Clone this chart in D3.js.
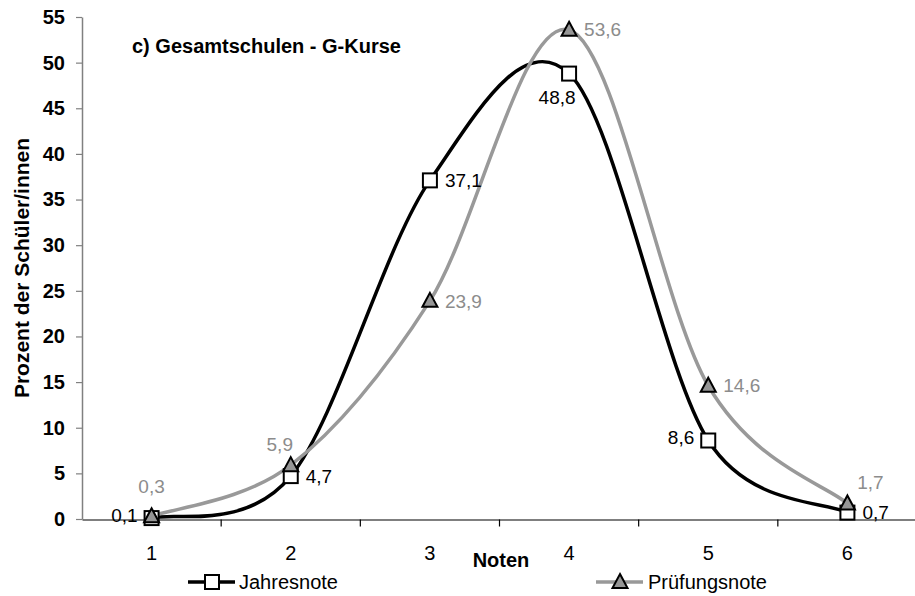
<!DOCTYPE html>
<html><head><meta charset="utf-8">
<script src="https://cdn.jsdelivr.net/npm/d3@7"></script>
<style>body{margin:0;background:#fff}svg{display:block}text{font-family:"Liberation Sans",Arial,sans-serif}</style>
</head><body>
<svg id="c" width="915" height="596"></svg>
<script>
const categories = ["1","2","3","4","5","6"];
const jahresnote = [0.1, 4.7, 37.1, 48.8, 8.6, 0.7];
const pruefungsnote = [0.3, 5.9, 23.9, 53.6, 14.6, 1.7];
const yTicks = [0,5,10,15,20,25,30,35,40,45,50,55];
const jahresLabelPos = ["left","right","right","below","left","right"];
const pruefLabelPos = ["above","aboveLeft","right","right","right","aboveRight"];

const svg = d3.select("#c");
const x = d3.scaleBand().domain(categories).range([82, 917]);
const y = d3.scaleLinear().domain([0,55]).range([519, 17]);
const cx = d => x(d) + x.bandwidth()/2;

// y axis
const ya = svg.append("g").attr("transform","translate(82,0)")
  .call(d3.axisLeft(y).tickValues(yTicks).tickSize(6).tickPadding(11).tickSizeOuter(0));
ya.select(".domain").attr("stroke","#808080").attr("stroke-width",1.5);
ya.selectAll(".tick line").attr("stroke","#808080").attr("stroke-width",1.2);
ya.selectAll(".tick text").attr("font-size",20).attr("font-weight","bold").attr("fill","#000")
  .attr("font-family","'Liberation Sans',Arial,sans-serif");

// x axis
const xa = svg.append("g").attr("transform","translate(0,519.5)")
  .call(d3.axisBottom(x).tickSize(0).tickPadding(0));
xa.select(".domain").attr("stroke","#000").attr("stroke-width",1.2);
xa.selectAll(".tick text").remove();
const bounds = categories.map(c => x(c)).concat([x(categories[5]) + x.bandwidth()]).slice(1);
xa.selectAll(".xt").data(bounds).enter().append("line").attr("class","xt")
  .attr("x1",d=>d).attr("x2",d=>d).attr("y1",0).attr("y2",7).attr("stroke","#000").attr("stroke-width",1.2);
svg.append("g").selectAll("text").data(categories).enter().append("text")
  .attr("x", d => cx(d)).attr("y", 560).attr("text-anchor","middle")
  .attr("font-size",20).text(d=>d);

svg.append("text").attr("x",501).attr("y",567).attr("text-anchor","middle")
  .attr("font-size",20).attr("font-weight","bold").text("Noten");
svg.append("text").attr("transform","translate(29,268) rotate(-90)").attr("text-anchor","middle")
  .attr("font-size",21).attr("font-weight","bold").text("Prozent der Schüler/innen");
svg.append("text").attr("x",132).attr("y",53).attr("font-size",20).attr("font-weight","bold")
  .text("c) Gesamtschulen - G-Kurse");

// Excel-like smoothing: Bezier with 1/6 tangents, control length capped at half the segment
function smoothPath(vals) {
  const P = vals.map((v,i) => [cx(categories[i]), y(v)]);
  const p = d3.path();
  p.moveTo(P[0][0], P[0][1]);
  const n = P.length;
  for (let i = 0; i < n - 1; i++) {
    const p0 = P[Math.max(0, i-1)], p1 = P[i], p2 = P[i+1], p3 = P[Math.min(n-1, i+2)];
    const d12 = Math.hypot(p2[0]-p1[0], p2[1]-p1[1]);
    let v1 = [(p2[0]-p0[0])/6, (p2[1]-p0[1])/6];
    let v2 = [(p3[0]-p1[0])/6, (p3[1]-p1[1])/6];
    const l1 = Math.hypot(...v1), l2 = Math.hypot(...v2);
    if (l1 > d12/2) v1 = v1.map(c => c * (d12/2) / l1);
    if (l2 > d12/2) v2 = v2.map(c => c * (d12/2) / l2);
    p.bezierCurveTo(p1[0]+v1[0], p1[1]+v1[1], p2[0]-v2[0], p2[1]-v2[1], p2[0], p2[1]);
  }
  return p.toString();
}

const blackC = "#000", grayC = "#999999", triFill = "#969696";

function series(vals, color) {
  svg.append("path").attr("d", smoothPath(vals)).attr("fill","none").attr("stroke",color)
    .attr("stroke-width",3.5).attr("stroke-linejoin","round");
}
function markers(vals, marker) {
  const g = svg.append("g");
  vals.forEach((v,i)=>{
    const px = cx(categories[i]), py = y(v);
    if (marker==="square") {
      g.append("rect").attr("x",px-7).attr("y",py-7).attr("width",14).attr("height",14)
        .attr("fill","#fff").attr("stroke","#000").attr("stroke-width",2);
    } else {
      g.append("path").attr("d",`M${px},${py-8}L${px+7.5},${py+6}L${px-7.5},${py+6}Z`)
        .attr("fill",triFill).attr("stroke","#000").attr("stroke-width",2).attr("stroke-linejoin","miter");
    }
  });
}
function labels(vals, color, pos) {
  const g = svg.append("g");
  vals.forEach((v,i)=>{
    const px = cx(categories[i]), py = y(v);
    const t = String(v).replace(".",",");
    let lx=px, ly=py, anchor="middle";
    switch(pos[i]) {
      case "left": lx=px-14; ly=py-3; anchor="end"; break;
      case "right": lx=px+15; anchor="start"; break;
      case "above": ly=py-30; break;
      case "aboveLeft": lx=px-11; ly=py-21; break;
      case "aboveRight": lx=px+23; ly=py-21; break;
      case "below": lx=px-12; ly=py+24; break;
    }
    g.append("text").attr("x",lx).attr("y",ly).attr("dy","0.35em").attr("text-anchor",anchor)
      .attr("font-size",19).attr("fill",color).text(t);
  });
}

series(jahresnote, blackC);
series(pruefungsnote, grayC);
markers(jahresnote, "square");
markers(pruefungsnote, "triangle");
labels(jahresnote, "#000", jahresLabelPos);
labels(pruefungsnote, "#8c8c8c", pruefLabelPos);

// legend
const lg = svg.append("g");
lg.append("line").attr("x1",188).attr("x2",235).attr("y1",582).attr("y2",582).attr("stroke",blackC).attr("stroke-width",3.5);
lg.append("rect").attr("x",205).attr("y",575).attr("width",14).attr("height",14).attr("fill","#fff").attr("stroke","#000").attr("stroke-width",2);
lg.append("text").attr("x",239).attr("y",582).attr("dy","0.35em").attr("font-size",20).text("Jahresnote");
lg.append("line").attr("x1",596).attr("x2",643).attr("y1",582).attr("y2",582).attr("stroke",grayC).attr("stroke-width",3.5);
lg.append("path").attr("d","M620,574L627.5,588L612.5,588Z").attr("fill",triFill).attr("stroke","#000").attr("stroke-width",2);
lg.append("text").attr("x",648).attr("y",582).attr("dy","0.35em").attr("font-size",20).text("Prüfungsnote");
</script>
</body></html>
